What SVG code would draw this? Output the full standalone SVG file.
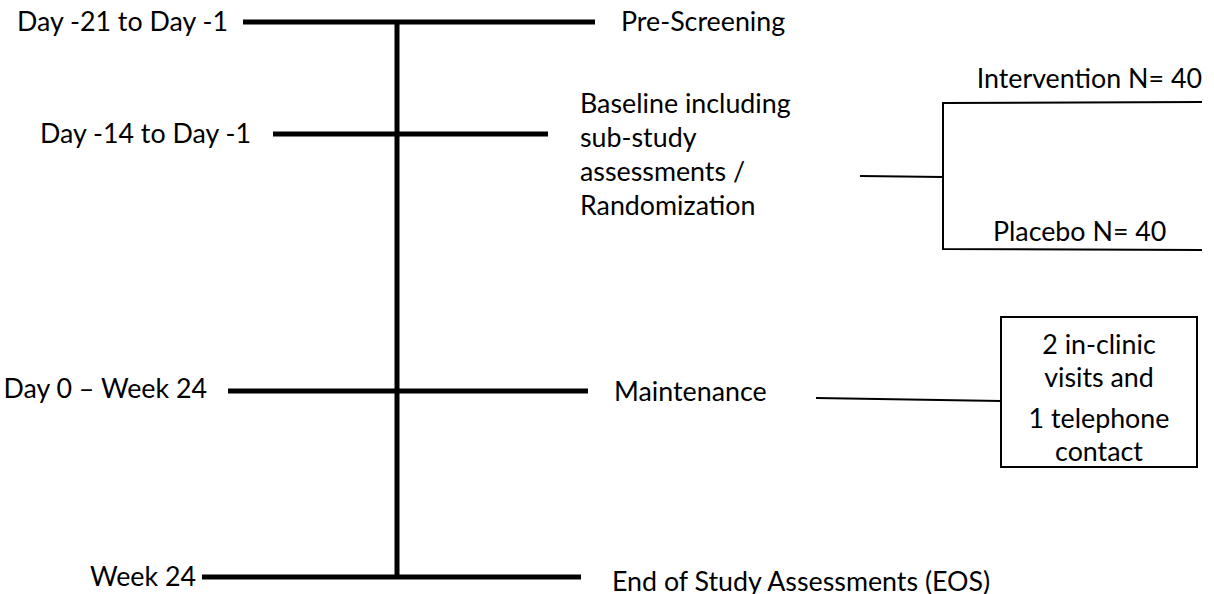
<svg xmlns="http://www.w3.org/2000/svg" width="1214" height="594" viewBox="0 0 1214 594">
<style>
text{font-family:Lato,"Liberation Sans",sans-serif;font-size:26.8px;fill:#000}
.thick{stroke:#000;stroke-width:5;fill:none}
.thin{stroke:#000;stroke-width:2;fill:none}
.mid{text-anchor:middle}
.end{text-anchor:end}
</style>
<rect width="1214" height="594" fill="#fff"/>
<g id="connectors">
<line class="thick" x1="397" y1="20" x2="397" y2="579"/>
<line class="thick" x1="243" y1="22" x2="595" y2="22"/>
<line class="thick" x1="273" y1="134" x2="548" y2="134"/>
<line class="thick" x1="228" y1="391" x2="588" y2="391"/>
<line class="thick" x1="202" y1="577" x2="581" y2="577"/>
<line class="thin" x1="860" y1="176" x2="943" y2="177"/>
<polyline class="thin" points="1202,102 943,103 943,249 1202,250"/>
<line class="thin" x1="816" y1="398" x2="1001" y2="401"/>
</g>
<g id="label-day21"><text class="end" x="228" y="31">Day -21 to Day -1</text></g>
<g id="label-day14"><text class="end" x="251" y="143">Day -14 to Day -1</text></g>
<g id="label-day0"><text class="end" x="207" y="398">Day 0 – Week 24</text></g>
<g id="label-week24"><text class="end" x="196" y="586">Week 24</text></g>
<g id="prescreening"><text x="621" y="31">Pre-Screening</text></g>
<g id="baseline">
<text x="580" y="113">Baseline including</text>
<text x="580" y="147">sub-study</text>
<text x="580" y="181">assessments /</text>
<text x="580" y="215">Randomization</text>
</g>
<g id="intervention"><text class="end" x="1202" y="88">Intervention N= 40</text></g>
<g id="placebo"><text x="993" y="241">Placebo N= 40</text></g>
<g id="maintenance"><text x="614" y="401">Maintenance</text></g>
<g id="visits">
<rect class="thin" x="1001" y="317" width="196" height="150"/>
<text class="mid" x="1099" y="354">2 in-clinic</text>
<text class="mid" x="1099" y="387">visits and</text>
<text class="mid" x="1099" y="428">1 telephone</text>
<text class="mid" x="1099" y="461">contact</text>
</g>
<g id="eos"><text x="612" y="591">End of Study Assessments (EOS)</text></g>
</svg>
